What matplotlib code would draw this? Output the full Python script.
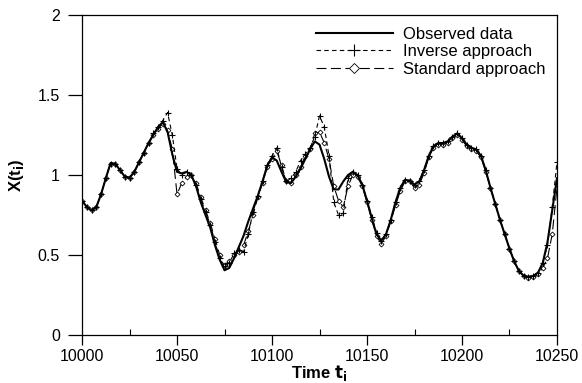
import numpy as np
import matplotlib
matplotlib.use('Agg')
import matplotlib.pyplot as plt
from matplotlib.ticker import MultipleLocator

plt.rcParams['font.family'] = ['Liberation Sans', 'DejaVu Sans']

# time axis, one reading every 2.5 units
t = np.arange(10000, 10250.1, 2.5)

observed = [0.84, 0.80, 0.78, 0.80, 0.88, 0.98, 1.075, 1.07, 1.03, 0.99,
            0.985, 1.02, 1.08, 1.14, 1.20, 1.25, 1.30, 1.33, 1.27, 1.13,
            1.02, 1.01, 1.02, 1.00, 0.93, 0.83, 0.75, 0.67, 0.56, 0.47,
            0.405, 0.42, 0.48, 0.55, 0.62, 0.71, 0.79, 0.87, 0.96, 1.06,
            1.11, 1.09, 1.02, 0.955, 0.95, 0.99, 1.04, 1.10, 1.16, 1.21,
            1.19, 1.10, 0.99, 0.91, 0.91, 0.96, 1.00, 1.02, 1.00, 0.94,
            0.84, 0.73, 0.63, 0.59, 0.63, 0.72, 0.83, 0.92, 0.97, 0.965,
            0.94, 0.96, 1.03, 1.12, 1.18, 1.20, 1.20, 1.21, 1.24, 1.26,
            1.23, 1.19, 1.17, 1.16, 1.12, 1.03, 0.92, 0.82, 0.72, 0.63,
            0.54, 0.46, 0.40, 0.37, 0.365, 0.37, 0.39, 0.45, 0.58, 0.78,
            0.98]

inverse = [0.84, 0.80, 0.78, 0.80, 0.88, 0.98, 1.07, 1.07, 1.03, 0.99,
           0.98, 1.02, 1.08, 1.14, 1.20, 1.26, 1.30, 1.34, 1.39, 1.25,
           1.04, 1.00, 1.02, 1.00, 0.94, 0.85, 0.77, 0.69, 0.58, 0.48,
           0.43, 0.45, 0.51, 0.53, 0.52, 0.63, 0.77, 0.87, 0.96, 1.06,
           1.12, 1.17, 1.05, 0.96, 0.98, 1.02, 1.09, 1.13, 1.17, 1.24,
           1.37, 1.30, 1.12, 0.83, 0.75, 0.76, 0.98, 1.02, 1.00, 0.94,
           0.84, 0.74, 0.64, 0.59, 0.63, 0.72, 0.83, 0.92, 0.97, 0.96,
           0.94, 0.96, 1.03, 1.12, 1.18, 1.20, 1.20, 1.21, 1.24, 1.26,
           1.23, 1.19, 1.17, 1.16, 1.12, 1.03, 0.92, 0.82, 0.72, 0.63,
           0.54, 0.46, 0.40, 0.37, 0.365, 0.37, 0.39, 0.45, 0.56, 0.80,
           1.08]

standard = [0.84, 0.80, 0.78, 0.80, 0.88, 0.98, 1.07, 1.07, 1.03, 0.99,
            0.98, 1.02, 1.08, 1.14, 1.20, 1.25, 1.29, 1.32, 1.28, 1.16,
            0.88, 0.95, 0.99, 1.00, 0.95, 0.86, 0.78, 0.70, 0.60, 0.50,
            0.44, 0.46, 0.50, 0.52, 0.56, 0.65, 0.75, 0.86, 0.95, 1.05,
            1.10, 1.15, 1.06, 0.96, 0.95, 1.00, 1.05, 1.12, 1.16, 1.26,
            1.27, 1.20, 1.10, 0.93, 0.84, 0.80, 0.93, 1.00, 0.99, 0.93,
            0.83, 0.72, 0.62, 0.57, 0.62, 0.71, 0.81, 0.90, 0.96, 0.96,
            0.92, 0.94, 1.01, 1.11, 1.17, 1.19, 1.19, 1.20, 1.23, 1.25,
            1.22, 1.18, 1.16, 1.15, 1.11, 1.02, 0.92, 0.82, 0.72, 0.63,
            0.54, 0.46, 0.40, 0.37, 0.355, 0.36, 0.38, 0.42, 0.48, 0.63,
            0.92]

fig = plt.figure(figsize=(5.82, 3.83), dpi=100)
ax = fig.add_axes([0.141, 0.125, 0.816, 0.836])

ax.plot(t, standard, color='black', lw=0.8, ls=(0, (9, 4)),
        marker='D', ms=2.5, mfc='white', mec='black', mew=0.6,
        label='Standard approach')
ax.plot(t, inverse, color='black', lw=0.8, ls=(0, (4, 3)),
        marker='+', ms=4, mew=0.8, label='Inverse approach')
ax.plot(t, observed, color='black', lw=1.5, label='Observed data')

ax.set_xlim(10000, 10250)
ax.set_ylim(0, 2)
ax.xaxis.set_major_locator(MultipleLocator(50))
ax.xaxis.set_minor_locator(MultipleLocator(25))
ax.set_yticks([0, 0.5, 1, 1.5, 2])
ax.set_yticklabels(['0', '0.5', '1', '1.5', '2'])

ax.tick_params(axis='x', which='major', direction='out', length=7, width=0.9,
               labelsize=11.5, pad=3)
ax.tick_params(axis='x', which='minor', direction='in', length=4, width=0.8)
ax.tick_params(axis='y', which='major', direction='out', length=10, width=0.9,
               labelsize=11.5, pad=6)
for s in ax.spines.values():
    s.set_linewidth(0.9)

ax.set_xlabel(r'Time $\mathbf{t_i}$', fontsize=12, fontweight='bold', labelpad=-1)
ax.set_ylabel(r'X(t$\mathbf{_i}$)', fontsize=12, fontweight='bold', labelpad=8)

h, l = ax.get_legend_handles_labels()
leg = ax.legend(h[::-1], l[::-1], loc='upper right', frameon=False,
                fontsize=12, handlelength=4.6, handletextpad=0.6,
                labelspacing=0.15, borderaxespad=0.3, markerscale=2.2)

fig.savefig('out.png', dpi=100)
